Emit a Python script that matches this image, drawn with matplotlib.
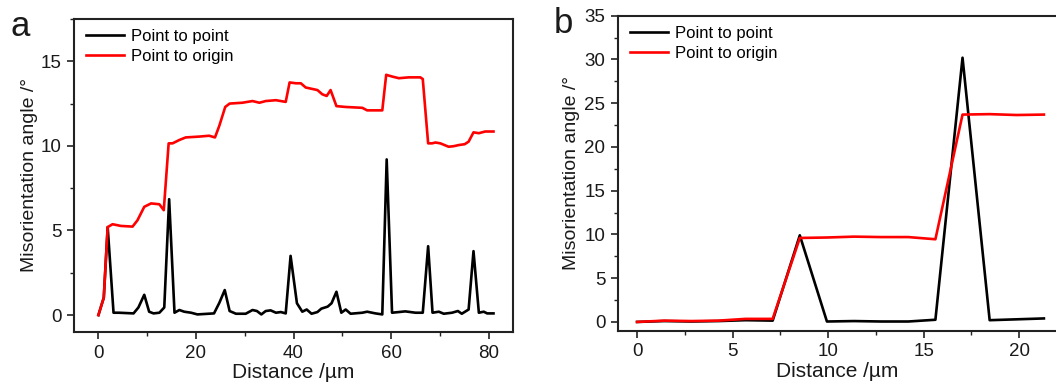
import matplotlib
matplotlib.use("Agg")
import matplotlib.pyplot as plt
from matplotlib.ticker import MultipleLocator

plt.rcParams['font.family'] = ['Liberation Sans', 'DejaVu Sans']

# ---- Panel a data ----
a_red_x = [0, 1.1, 1.9, 2.9, 4.6, 7.0, 8.0, 9.4, 10.8, 12.5, 13.4, 14.4, 15.2, 16.6, 17.9,
           20.7, 22.7, 23.9, 24.8, 26.0, 26.9, 29.5, 31.6, 33.0, 34.3, 36.4, 38.4, 39.2,
           40.5, 41.5, 42.5, 44.9, 45.9, 46.8, 47.6, 48.8, 50.7, 54.1, 55.1, 58.2, 59.0,
           60.2, 61.6, 63.6, 66.0, 66.5, 67.6, 68.4, 69.1, 70.1, 71.8, 72.8, 73.9, 75.1,
           75.9, 76.9, 78.0, 79.3, 81.0]
a_red_y = [0, 1.03, 5.2, 5.37, 5.27, 5.23, 5.6, 6.4, 6.6, 6.55, 6.2, 10.15, 10.15, 10.35, 10.5,
           10.55, 10.6, 10.5, 11.2, 12.3, 12.5, 12.55, 12.65, 12.55, 12.65, 12.7, 12.6, 13.75,
           13.7, 13.7, 13.45, 13.3, 13.05, 12.95, 13.3, 12.35, 12.3, 12.25, 12.1, 12.1, 14.2,
           14.1, 14.0, 14.05, 14.05, 13.95, 10.15, 10.15, 10.2, 10.15, 9.95, 9.98, 10.05, 10.1,
           10.25, 10.8, 10.75, 10.85, 10.85]

a_blk_x = [0, 1.1, 1.9, 3.1, 4.2, 7.2, 8.2, 9.4, 10.4, 11.3, 12.5, 13.5, 14.5, 15.6, 16.6,
           17.6, 19.0, 20.3, 23.7, 24.8, 25.9, 26.9, 28.2, 30.2, 31.6, 32.5, 33.4, 34.3,
           35.3, 36.4, 37.4, 38.4, 39.4, 40.7, 41.8, 42.7, 43.7, 44.9, 45.7, 47.0, 47.8,
           48.8, 49.8, 50.7, 51.7, 54.1, 55.1, 56.8, 58.2, 59.1, 60.2, 61.6, 62.9, 65.0,
           66.5, 67.6, 68.5, 69.8, 70.8, 72.5, 73.7, 74.5, 75.9, 76.9, 78.0, 79.0, 79.7, 81.0]
a_blk_y = [0, 1.03, 5.2, 0.14, 0.14, 0.1, 0.45, 1.2, 0.2, 0.1, 0.14, 0.45, 6.85, 0.14, 0.3,
           0.2, 0.14, 0.04, 0.1, 0.73, 1.48, 0.24, 0.08, 0.08, 0.3, 0.24, 0.04, 0.24,
           0.28, 0.14, 0.18, 0.1, 3.5, 0.7, 0.2, 0.33, 0.08, 0.18, 0.38, 0.5, 0.7,
           1.38, 0.14, 0.33, 0.08, 0.14, 0.2, 0.1, 0.04, 9.2, 0.14, 0.18, 0.22, 0.14,
           0.14, 4.07, 0.14, 0.2, 0.08, 0.14, 0.24, 0.08, 0.33, 3.78, 0.14, 0.2, 0.1, 0.1]

# ---- Panel b data ----
b_x = [0, 1.42, 2.84, 4.26, 5.68, 7.1, 8.52, 9.94, 11.36, 12.78, 14.2, 15.62, 17.04, 18.46, 19.88, 21.3]
b_blk_y = [0, 0.1, 0.05, 0.1, 0.2, 0.15, 9.9, 0.05, 0.1, 0.05, 0.05, 0.25, 30.2, 0.2, 0.3, 0.4]
b_red_y = [0, 0.15, 0.1, 0.15, 0.35, 0.35, 9.6, 9.65, 9.75, 9.7, 9.7, 9.45, 23.7, 23.75, 23.65, 23.7]

labels = ["Point to point", "Point to origin"]

fig = plt.figure(figsize=(10.56, 3.89), dpi=100)
ax1 = fig.add_axes([0.0701, 0.1465, 0.4157, 0.8047])
ax2 = fig.add_axes([0.5852, 0.1499, 0.4160, 0.8097])

TXT = '#1a1a1a'

def style(ax):
    for s in ax.spines.values():
        s.set_linewidth(1.5)
        s.set_color('#222222')
    ax.tick_params(which='major', direction='out', length=5, width=1.2, labelsize=13.5,
                   top=False, right=False, colors='#222222', labelcolor=TXT, pad=4)
    ax.tick_params(which='minor', direction='out', length=3, width=1.0, top=False, right=False,
                   colors='#222222')

def legend(ax):
    ax.legend(loc='upper left', bbox_to_anchor=(0.0, 1.005), frameon=False, fontsize=12,
              handlelength=2.3, handletextpad=0.4, labelspacing=0.3, borderaxespad=0.3)

ax1.plot(a_blk_x, a_blk_y, color='black', lw=1.9, label=labels[0])
ax1.plot(a_red_x, a_red_y, color='red', lw=1.9, label=labels[1])
ax1.set_xlim(-5, 85)
ax1.set_ylim(-1, 17.5)
ax1.xaxis.set_major_locator(MultipleLocator(20))
ax1.xaxis.set_minor_locator(MultipleLocator(10))
ax1.yaxis.set_major_locator(MultipleLocator(5))
ax1.yaxis.set_minor_locator(MultipleLocator(2.5))
style(ax1)
ax1.set_xlabel("Distance /µm", fontsize=15, labelpad=1, color=TXT)
ax1.set_ylabel("Misorientation angle /°", fontsize=14, labelpad=2, color=TXT)
legend(ax1)
fig.text(0.010, 0.907, "a", fontsize=25, va='baseline', ha='left', color=TXT)

ax2.plot(b_x, b_blk_y, color='black', lw=1.9, label=labels[0])
ax2.plot(b_x, b_red_y, color='red', lw=1.9, label=labels[1])
ax2.set_xlim(-1, 22)
ax2.set_ylim(-1, 35)
ax2.xaxis.set_major_locator(MultipleLocator(5))
ax2.xaxis.set_minor_locator(MultipleLocator(2.5))
ax2.yaxis.set_major_locator(MultipleLocator(5))
ax2.yaxis.set_minor_locator(MultipleLocator(2.5))
style(ax2)
ax2.set_xlabel("Distance /µm", fontsize=15, labelpad=1, color=TXT)
ax2.set_ylabel("Misorientation angle /°", fontsize=14, labelpad=3, color=TXT)
legend(ax2)
fig.text(0.524, 0.915, "b", fontsize=25, va='baseline', ha='left', color=TXT)

fig.savefig("out.png", dpi=100)
